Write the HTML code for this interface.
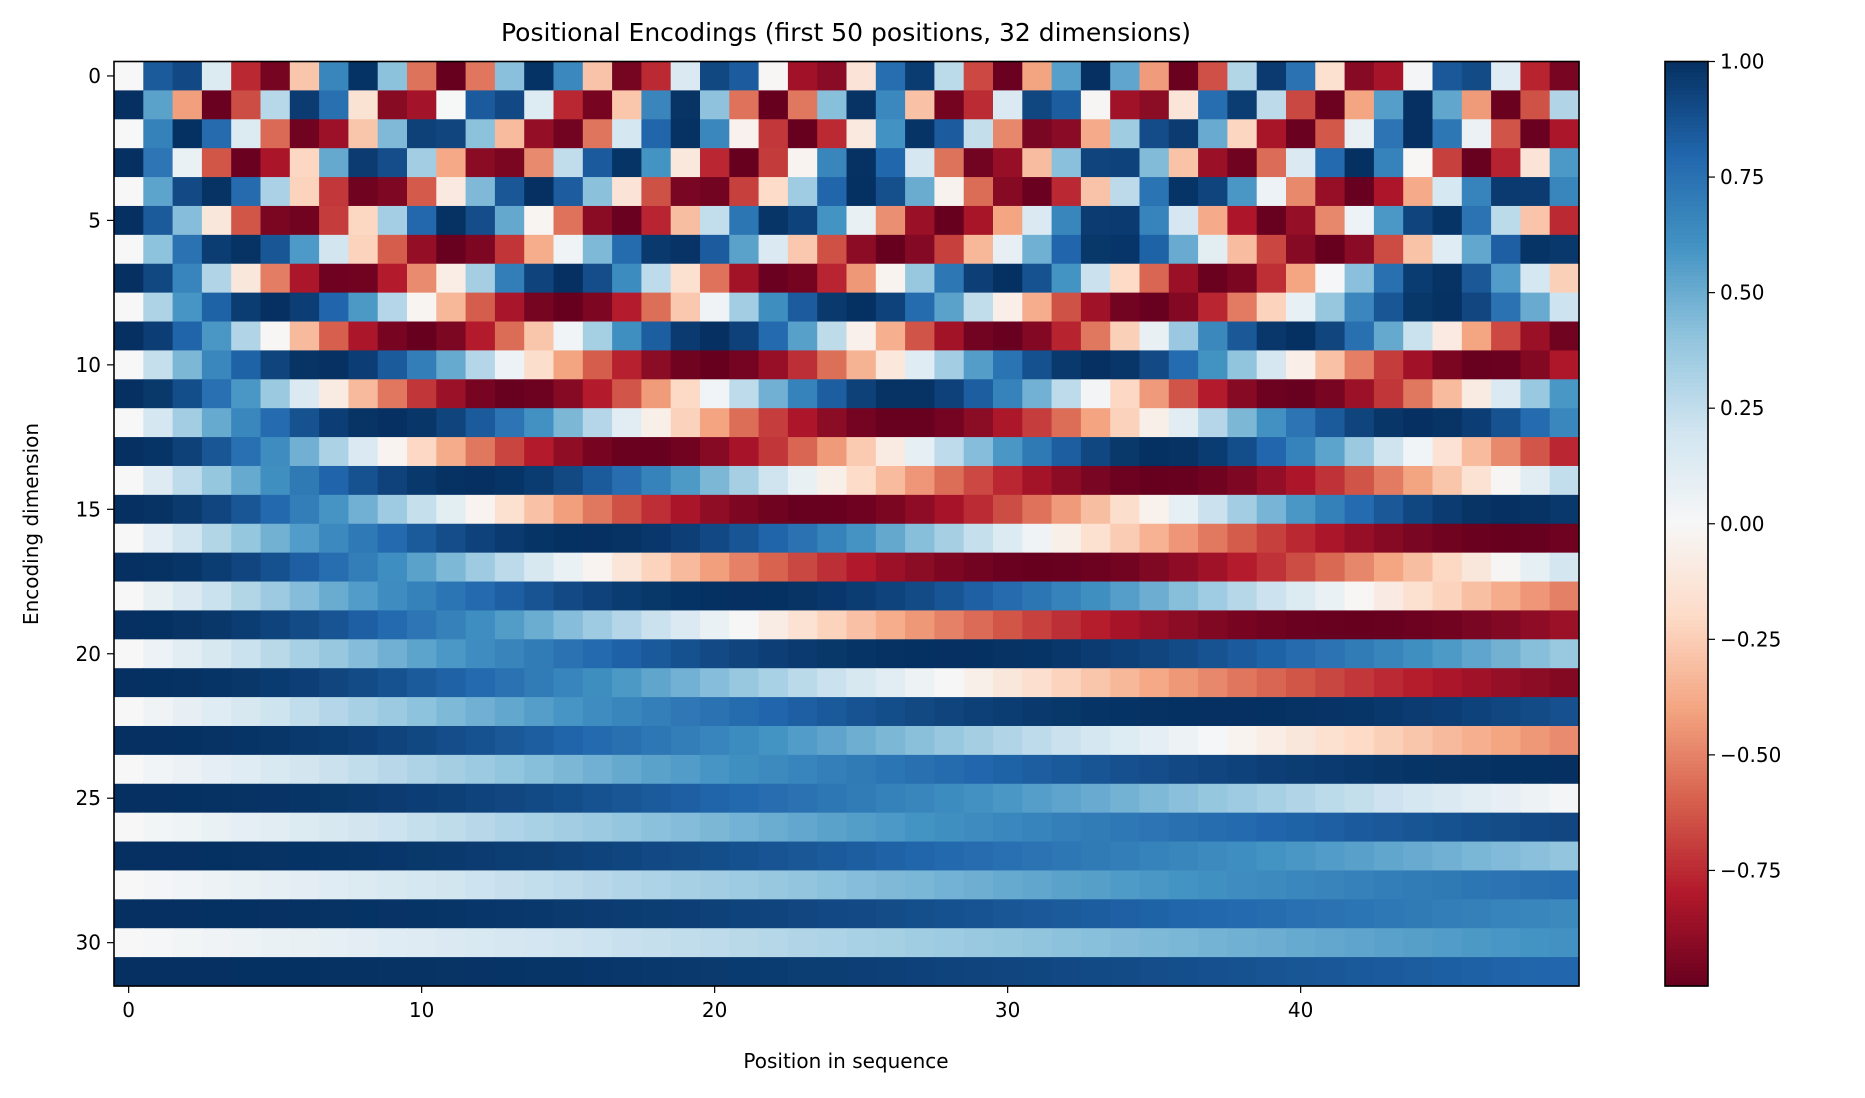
<!DOCTYPE html>
<html><head><meta charset="utf-8"><style>
body{margin:0;background:#fff;}
svg text{font-family:"DejaVu Sans","Liberation Sans",sans-serif;fill:#000;}
</style></head><body>
<svg id="s" width="1865" height="1093" xmlns="http://www.w3.org/2000/svg">
<rect width="1865" height="1093" fill="#fff"/>
<g id="cells"></g>
<g id="cb"></g>
<rect x="114" y="61.5" width="1465" height="924.5" fill="none" stroke="#000" stroke-width="1.6"/>
<rect x="1665" y="61.5" width="43" height="924.5" fill="none" stroke="#000" stroke-width="1.6"/>
<text x="846" y="41" font-size="25" text-anchor="middle">Positional Encodings (first 50 positions, 32 dimensions)</text>
<text x="846" y="1068" font-size="20" text-anchor="middle">Position in sequence</text>
<text transform="translate(38,524) rotate(-90)" font-size="20" text-anchor="middle">Encoding dimension</text>
<g id="ax"></g>
</svg>
<script>
var stops=["#67001f","#b2182b","#d6604d","#f4a582","#fddbc7","#f7f7f7","#d1e5f0","#92c5de","#4393c3","#2166ac","#053061"];
function h(c){return [parseInt(c.substr(1,2),16),parseInt(c.substr(3,2),16),parseInt(c.substr(5,2),16)];}
var S=stops.map(h);
function cm(v){var t=(v+1)/2;t=Math.max(0,Math.min(1,t))*10;var i=Math.min(9,Math.floor(t)),f=t-i;
var a=S[i],b=S[i+1];return "rgb("+a.map(function(x,k){return Math.round(x+(b[k]-x)*f)}).join(",")+")";}
var NS="http://www.w3.org/2000/svg";
function el(p,n,at,tx){var e=document.createElementNS(NS,n);for(var k in at)e.setAttribute(k,at[k]);if(tx!==undefined)e.textContent=tx;p.appendChild(e);return e;}
var g=document.getElementById("cells");
var x0=114,y0=61.5,W=1465,H=924.5,cw=W/50,ch=H/32,d=64;
for(var r=0;r<32;r++){var i=Math.floor(r/2);var div=Math.pow(10000,2*i/d);
for(var p=0;p<50;p++){var v=(r%2==0)?Math.sin(p/div):Math.cos(p/div);
el(g,"rect",{x:x0+p*cw,y:y0+r*ch,width:cw+0.6,height:ch+0.6,fill:cm(v)});}}
var cb=document.getElementById("cb");var n=250;
for(var k=0;k<n;k++){var v=1-2*(k+0.5)/n;el(cb,"rect",{x:1665,y:y0+k*H/n,width:43,height:H/n+0.6,fill:cm(v)});}
var ax=document.getElementById("ax");
[0,10,20,30,40].forEach(function(p){var x=x0+p*cw+cw/2;el(ax,"line",{x1:x,x2:x,y1:986,y2:993,stroke:"#000","stroke-width":1.2});
el(ax,"text",{x:x,y:1017,"font-size":20,"text-anchor":"middle"},String(p));});
[0,5,10,15,20,25,30].forEach(function(r){var y=y0+r*ch+ch/2;el(ax,"line",{x1:107,x2:114,y1:y,y2:y,stroke:"#000","stroke-width":1.2});
el(ax,"text",{x:101,y:y+7,"font-size":20,"text-anchor":"end"},String(r));});
[1,0.75,0.5,0.25,0,-0.25,-0.5,-0.75].forEach(function(v){var y=y0+(1-v)/2*H;el(ax,"line",{x1:1708,x2:1715,y1:y,y2:y,stroke:"#000","stroke-width":1.2});
el(ax,"text",{x:1720,y:y+7,"font-size":20},(v<0?"\u2212":"")+Math.abs(v).toFixed(2));});
</script>
</body></html>
